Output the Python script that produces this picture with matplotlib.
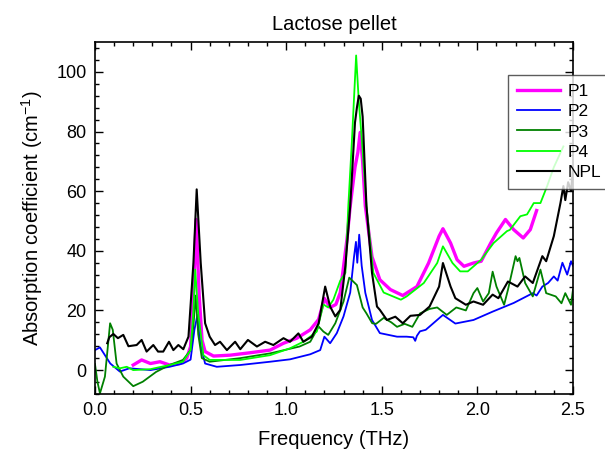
import matplotlib
matplotlib.use("Agg")
import matplotlib.pyplot as plt
from matplotlib.ticker import MultipleLocator, AutoMinorLocator

plt.rcParams['font.family'] = ['Liberation Sans', 'DejaVu Sans']
plt.rcParams['mathtext.fontset'] = 'custom'
plt.rcParams['mathtext.rm'] = 'Liberation Sans'
plt.rcParams['mathtext.it'] = 'Liberation Sans:italic'

# data (frequency in THz, absorption in cm^-1)
p1_x = [0.20, 0.244, 0.29, 0.34, 0.39, 0.445, 0.48, 0.50, 0.515, 0.529, 0.545, 0.56, 0.576,
        0.62, 0.707, 0.81, 0.916, 0.986, 1.056, 1.126, 1.17, 1.20, 1.23, 1.26, 1.283, 1.318,
        1.335, 1.36, 1.375, 1.387, 1.40, 1.414, 1.449, 1.49, 1.545, 1.61, 1.684, 1.745, 1.80,
        1.82, 1.86, 1.894, 1.93, 1.98, 2.02, 2.07, 2.10, 2.147, 2.19, 2.24, 2.277, 2.31]
p1_y = [1.7, 3.4, 2.2, 2.8, 1.7, 2.2, 4.0, 7.9, 25, 50.5, 25, 10, 6.2,
        4.7, 5.0, 5.8, 6.7, 9.0, 10.7, 13.5, 17, 24, 21, 22, 26, 43.8,
        55, 68, 73, 79.7, 70, 55, 38, 30.3, 27, 25, 28, 35.9, 44.9,
        47.4, 42.6, 37, 34.8, 35.9, 36.5, 42.6, 46, 50.5, 47.1, 44.3, 47.1, 53.5]

p2_x = [0.0, 0.026, 0.052, 0.08, 0.13, 0.18, 0.29, 0.39, 0.46, 0.50, 0.52, 0.536, 0.55, 0.576,
        0.637, 0.76, 0.916, 1.02, 1.126, 1.178, 1.20, 1.23, 1.265, 1.30, 1.335, 1.355, 1.365,
        1.372, 1.382, 1.395, 1.414, 1.449, 1.49, 1.58, 1.63, 1.665, 1.675, 1.684, 1.70, 1.73,
        1.75, 1.82, 1.885, 1.98, 2.08, 2.19, 2.29, 2.31, 2.34, 2.37, 2.40, 2.42, 2.445, 2.47,
        2.49, 2.5]
p2_y = [6.7, 7.6, 5.0, 2.2, -0.5, 0.6, 0.0, 1.1, 2.2, 3.5, 13.5, 18.5, 9.0, 2.2,
        1.1, 1.7, 2.8, 3.6, 5.3, 6.7, 11.2, 9.0, 12.4, 18, 26, 38, 43,
        36, 45.4, 35, 25.9, 16.8, 12.4, 11.2, 11.2, 11.0, 9.8, 11.5, 13, 13.5,
        14.6, 18.5, 15.6, 16.8, 19.6, 22.5, 25.8, 25, 28, 29.2, 31.4, 30, 36, 32,
        36.5, 35]

p3_x = [0.0, 0.013, 0.026, 0.052, 0.079, 0.093, 0.113, 0.148, 0.2, 0.25, 0.32, 0.39, 0.46,
        0.50, 0.515, 0.527, 0.54, 0.559, 0.60, 0.76, 0.916, 1.07, 1.126, 1.17, 1.195, 1.22,
        1.257, 1.30, 1.33, 1.37, 1.40, 1.42, 1.45, 1.47, 1.51, 1.55, 1.58, 1.62, 1.66, 1.70,
        1.75, 1.79, 1.84, 1.89, 1.94, 1.98, 2.0, 2.03, 2.06, 2.08, 2.10, 2.14, 2.16, 2.20,
        2.21, 2.22, 2.25, 2.29, 2.33, 2.36, 2.41, 2.44, 2.46, 2.49, 2.5]
p3_y = [2.0, -4.0, -7.8, -2.2, 15.7, 13.5, 2.2, -2.2, -5.4, -3.9, -0.6, 1.7, 3.4,
        6.7, 15, 25, 12, 4.0, 2.8, 4.0, 5.6, 7.9, 9.5, 14.6, 12.9, 11.8,
        15.7, 23, 31, 28.5, 21, 19, 15.7, 15.5, 17.5, 16, 14.5, 15.5, 14.5, 19,
        20.5, 21, 18.5, 21, 20, 25.8, 27.5, 23, 25.8, 33, 28, 21.9, 26.9, 38.2,
        36.5, 37.6, 29.2, 24.7, 33.7, 25.8, 24.7, 22.4, 25.8, 21.9, 26.9]

p4_x = [0.096, 0.13, 0.166, 0.2, 0.29, 0.39, 0.46, 0.50, 0.515, 0.524, 0.54, 0.567, 0.60,
        0.76, 0.916, 1.02, 1.09, 1.16, 1.195, 1.22, 1.247, 1.283, 1.31, 1.325, 1.344, 1.366,
        1.38, 1.396, 1.42, 1.456, 1.51, 1.60, 1.63, 1.72, 1.79, 1.82, 1.87, 1.91, 1.95, 2.02,
        2.085, 2.155, 2.17, 2.225, 2.26, 2.295, 2.33, 2.365, 2.40, 2.45]
p4_y = [1.1, 0.6, 1.1, 0.0, 0.3, 1.7, 2.8, 6.7, 20, 33.7, 19, 5.0, 3.4,
        3.4, 5.0, 7.3, 9.5, 12.9, 22, 21, 23.6, 30, 32.6, 55, 77, 105.5,
        90, 77, 55, 32.6, 26, 23.6, 24.7, 29.2, 35.9, 41.5, 35.9, 33.1, 33.1, 37,
        42.6, 46.6, 47, 51.6, 52.2, 56, 56, 61.7, 68, 75]

npl_x = [0.064, 0.075, 0.096, 0.12, 0.148, 0.175, 0.218, 0.244, 0.27, 0.305, 0.33, 0.357,
         0.387, 0.41, 0.436, 0.462, 0.489, 0.515, 0.532, 0.553, 0.576, 0.60, 0.628, 0.654,
         0.69, 0.733, 0.76, 0.80, 0.847, 0.89, 0.933, 0.986, 1.02, 1.064, 1.09, 1.134, 1.17,
         1.204, 1.23, 1.257, 1.283, 1.31, 1.335, 1.36, 1.37, 1.38, 1.39, 1.40, 1.42, 1.449,
         1.475, 1.49, 1.527, 1.571, 1.61, 1.65, 1.70, 1.75, 1.80, 1.82, 1.86, 1.885, 1.94,
         1.98, 2.03, 2.08, 2.11, 2.16, 2.21, 2.25, 2.29, 2.34, 2.36, 2.40, 2.435, 2.45, 2.46,
         2.475, 2.49, 2.5]
npl_y = [9.0, 11, 12.1, 10.7, 11.8, 8.0, 8.4, 10.1, 6.2, 8.4, 6.2, 6.2,
         9.5, 6.7, 8.4, 7.0, 11.2, 36, 60.6, 36, 15.7, 11.2, 8.4, 9.5,
         6.7, 9.5, 7.0, 10.1, 7.9, 9.5, 8.4, 10.7, 9.5, 12.3, 9.5, 11.2, 15.7,
         28, 21.3, 18, 20.2, 35, 55, 83, 88, 92, 91, 85, 55, 32.6,
         21.3, 20.2, 16.8, 17.9, 15.7, 18.2, 18.5, 21.3, 28, 35.9, 28, 24.1, 21.9,
         23, 21.9, 25.3, 24.1, 29.7, 28, 31.4, 29.2, 38.2, 36.5, 44.9, 56.1, 61.7, 57,
         63, 60, 67]

fig = plt.figure(figsize=(6.05, 4.57), dpi=100)
ax = fig.add_axes([0.157, 0.138, 0.79, 0.770])

ax.plot(p1_x, p1_y, color='#FF00FF', lw=2.4, label='P1')
ax.plot(p2_x, p2_y, color='#0000FF', lw=1.3, label='P2')
ax.plot(p3_x, p3_y, color='#008000', lw=1.3, label='P3')
ax.plot(p4_x, p4_y, color='#00FF00', lw=1.3, label='P4')
ax.plot(npl_x, npl_y, color='black', lw=1.5, label='NPL')

ax.set_xlim(0, 2.5)
ax.set_ylim(-8, 110)
ax.xaxis.set_major_locator(MultipleLocator(0.5))
ax.xaxis.set_minor_locator(AutoMinorLocator(5))
ax.yaxis.set_major_locator(MultipleLocator(20))
ax.yaxis.set_minor_locator(AutoMinorLocator(5))
ax.xaxis.set_major_formatter(plt.FormatStrFormatter('%.1f'))
ax.tick_params(which='both', direction='in', top=True, right=True, labelsize=13, width=1)
ax.tick_params(which='major', length=6, pad=6)
ax.tick_params(which='minor', length=3)
for s in ax.spines.values():
    s.set_linewidth(1.2)

ax.set_xlabel('Frequency (THz)', fontsize=14.5, labelpad=8)
ax.set_ylabel('Absorption coefficient (cm$^{-1}$)', fontsize=14.5, labelpad=8)
ax.set_title('Lactose pellet', fontsize=14.5, pad=9)

leg = ax.legend(loc='upper left', bbox_to_anchor=(0.840, 0.836), bbox_transform=fig.transFigure,
                fontsize=12.5, frameon=True, fancybox=False, handlelength=2.5,
                labelspacing=0.3, borderpad=0.5, handletextpad=0.4, borderaxespad=0)
leg.get_frame().set_edgecolor('#333333')
leg.get_frame().set_linewidth(1.0)
leg.set_clip_on(False)

fig.savefig('out.png', dpi=100)
